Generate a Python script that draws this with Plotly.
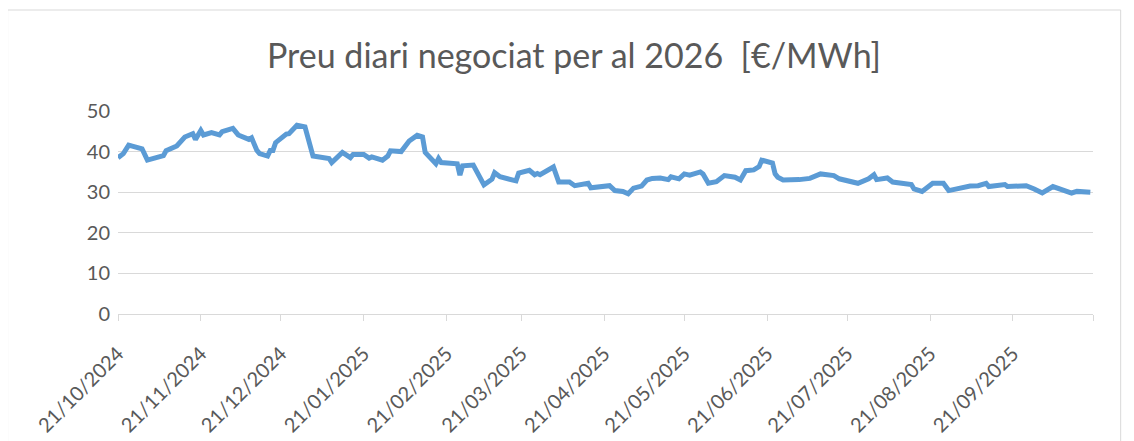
import plotly.graph_objects as go

title_text = "Preu diari negociat per al 2026  [€/MWh]"

dates = [
    "2024-10-21", "2024-10-23", "2024-10-25", "2024-10-28", "2024-10-30",
    "2024-11-01", "2024-11-04", "2024-11-06", "2024-11-07", "2024-11-08",
    "2024-11-12", "2024-11-15", "2024-11-18", "2024-11-19", "2024-11-21",
    "2024-11-22", "2024-11-25", "2024-11-28", "2024-11-29", "2024-12-03",
    "2024-12-05", "2024-12-09", "2024-12-10", "2024-12-12", "2024-12-13",
    "2024-12-16", "2024-12-17", "2024-12-18", "2024-12-19", "2024-12-23",
    "2024-12-24", "2024-12-27", "2024-12-30", "2025-01-02", "2025-01-06",
    "2025-01-08", "2025-01-09", "2025-01-13", "2025-01-16", "2025-01-17",
    "2025-01-20", "2025-01-21", "2025-01-23", "2025-01-24", "2025-01-28",
    "2025-01-30", "2025-01-31", "2025-02-04", "2025-02-07", "2025-02-10",
    "2025-02-12", "2025-02-13", "2025-02-17", "2025-02-18", "2025-02-19",
    "2025-02-24", "2025-02-25", "2025-02-26", "2025-02-27", "2025-03-03",
    "2025-03-07", "2025-03-10", "2025-03-11", "2025-03-13", "2025-03-17",
    "2025-03-19", "2025-03-20", "2025-03-24", "2025-03-26", "2025-03-27",
    "2025-03-28", "2025-04-02", "2025-04-04", "2025-04-08", "2025-04-10",
    "2025-04-15", "2025-04-16", "2025-04-21", "2025-04-23", "2025-04-25",
    "2025-04-28", "2025-04-30", "2025-05-02", "2025-05-05", "2025-05-07",
    "2025-05-09", "2025-05-12", "2025-05-15", "2025-05-16", "2025-05-19",
    "2025-05-21", "2025-05-23", "2025-05-27", "2025-05-28", "2025-05-30",
    "2025-06-02", "2025-06-04", "2025-06-05", "2025-06-09", "2025-06-11",
    "2025-06-13", "2025-06-16", "2025-06-18", "2025-06-19", "2025-06-23",
    "2025-06-24", "2025-06-25", "2025-06-27", "2025-07-03", "2025-07-07",
    "2025-07-11", "2025-07-16", "2025-07-18", "2025-07-22", "2025-07-25",
    "2025-07-29", "2025-07-31", "2025-08-01", "2025-08-05", "2025-08-07",
    "2025-08-12", "2025-08-14", "2025-08-15", "2025-08-18", "2025-08-22",
    "2025-08-26", "2025-08-28", "2025-09-01", "2025-09-05", "2025-09-08",
    "2025-09-11", "2025-09-12", "2025-09-18", "2025-09-19", "2025-09-26",
    "2025-09-29", "2025-10-02", "2025-10-06", "2025-10-10", "2025-10-13",
    "2025-10-15", "2025-10-17", "2025-10-20",
]

prices = [
    38.5, 39.5, 41.6, 41.0, 40.7,
    37.9, 38.3, 38.8, 39.0, 40.2,
    41.4, 43.6, 44.4, 43.0, 45.2,
    44.1, 44.7, 44.1, 44.9, 45.7,
    44.1, 43.0, 43.4, 40.3, 39.5,
    38.9, 40.3, 40.3, 42.2, 44.3,
    44.4, 46.5, 46.1, 38.9, 38.7,
    38.3, 37.3, 39.8, 38.5, 39.3,
    39.3, 39.3, 38.4, 38.7, 37.9,
    38.9, 40.2, 40.0, 42.6, 44.0,
    43.6, 39.8, 37.0, 38.3, 37.3,
    37.3, 37.0, 34.2, 36.5, 36.7,
    31.8, 33.2, 34.8, 33.8, 33.2,
    32.8, 34.7, 35.4, 34.3, 34.6,
    34.3, 36.2, 32.5, 32.5, 31.6,
    32.2, 31.1, 31.6, 31.6, 30.4,
    30.2, 29.6, 31.0, 31.5, 33.0,
    33.4, 33.5, 33.1, 33.8, 33.3,
    34.5, 34.2, 35.0, 34.5, 32.2,
    32.6, 33.7, 34.1, 33.7, 33.0,
    35.3, 35.5, 36.3, 37.9, 37.2,
    34.5, 33.7, 33.0, 33.1, 33.4,
    34.5, 34.1, 33.3, 32.8, 32.2,
    33.3, 34.3, 33.1, 33.5, 32.5,
    32.2, 31.9, 30.8, 30.2, 32.2,
    32.2, 30.4, 31.1, 31.5, 31.6,
    32.2, 31.4, 31.9, 31.4, 31.6,
    30.8, 29.8, 31.4, 30.6, 29.8,
    30.2, 30.0, 30.0,
]

tick_dates = [
    "2024-10-21", "2024-11-21", "2024-12-21", "2025-01-21", "2025-02-21",
    "2025-03-21", "2025-04-21", "2025-05-21", "2025-06-21", "2025-07-21",
    "2025-08-21", "2025-09-21", "2025-10-21",
]
tick_labels = [
    "21/10/2024", "21/11/2024", "21/12/2024", "21/01/2025", "21/02/2025",
    "21/03/2025", "21/04/2025", "21/05/2025", "21/06/2025", "21/07/2025",
    "21/08/2025", "21/09/2025", "",
]
y_ticks = [0, 10, 20, 30, 40, 50]

# page body has an 8px margin; figure is sized/positioned to compensate
OFF = 8
W, H = 1134 - OFF, 441 - OFF
ml = 117.5 - OFF
mr = W - (1093.3 - OFF)
mt = 111 - OFF
mb = H - (314 - OFF)
pw, ph = W - ml - mr, H - mt - mb

fig = go.Figure()
fig.add_trace(go.Scatter(
    x=dates, y=prices, mode="lines",
    line=dict(color="#5B9BD5", width=5, shape="linear"),
    hoverinfo="x+y", showlegend=False,
))

grey = "#595959"
fam = "Lato, 'Open Sans', sans-serif"
fig.update_layout(
    width=W, height=H,
    margin=dict(l=ml, r=mr, t=mt, b=mb, pad=0, autoexpand=False),
    paper_bgcolor="white", plot_bgcolor="white",
    font=dict(family=fam, color=grey),
    title=dict(text=title_text, x=(574 - OFF) / W, xanchor="center", xref="container",
               y=1 - (56 - OFF) / H, yanchor="middle", yref="container",
               font=dict(size=34, color=grey, family=fam)),
    xaxis=dict(
        type="date", range=["2024-10-21", "2025-10-21"], automargin=False,
        tickmode="array", tickvals=tick_dates, ticktext=tick_labels,
        tickangle=-45, tickfont=dict(size=20, color=grey),
        ticks="outside", ticklen=6, tickcolor="#d9d9d9", tickwidth=1.3,
        ticklabelstandoff=13,
        showline=True, linecolor="#d9d9d9", linewidth=1.3,
        showgrid=False, zeroline=False,
    ),
    yaxis=dict(
        range=[0, 50], tickmode="array", tickvals=y_ticks, automargin=False,
        tickfont=dict(size=20, color=grey), ticklabelstandoff=7,
        showgrid=True, gridcolor="#d9d9d9", gridwidth=1.3,
        zeroline=False, showline=False, ticks="",
    ),
    shapes=[dict(
        type="rect", xref="paper", yref="paper",
        x0=(7 - 117.5) / pw, x1=(1121 - 117.5) / pw,
        y0=(314 - 470) / ph, y1=(314 - 10) / ph,
        line=dict(color="#d9d9d9", width=1), fillcolor="rgba(0,0,0,0)", layer="below",
    )],
)

fig.write_html("out.html")
